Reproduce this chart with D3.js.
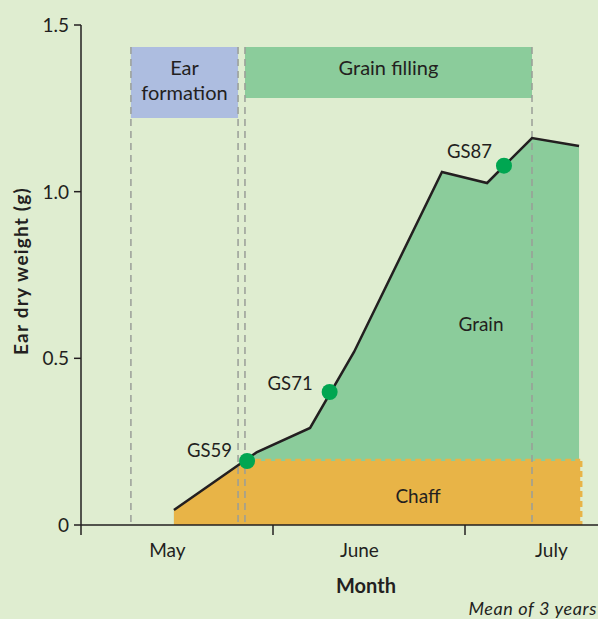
<!DOCTYPE html>
<html>
<head>
<meta charset="utf-8">
<script src="https://cdn.jsdelivr.net/npm/d3@7"></script>
<style>
  body { margin: 0; background: #dfedd0; }
  text { font-family: Lato, "Open Sans", sans-serif; fill: #231f20; }
</style>
</head>
<body>
<div id="chart"></div>
<script>
// months measured from 1 May (0 = start of May, 1 = start of June ...)
const monthLabels = ["May", "June", "July"];
const monthTicks = [0, 1, 2];
const yTicks = [0, 0.5, 1.0, 1.5];

// total ear dry weight (g)
const earMonths = [0.484, 0.917, 1.193, 1.422, 1.880, 2.115, 2.349, 2.594];
const earWeight = [0.045, 0.219, 0.291, 0.519, 1.059, 1.026, 1.161, 1.137];

// chaff part of the weight
const chaffMonths = [0.484, 0.855, 2.6];
const chaffWeight = [0.045, 0.192, 0.192];

// growth stages
const stageNames = ["GS59", "GS71", "GS87"];
const stageMonths = [0.865, 1.295, 2.203];
const stageWeight = [0.192, 0.399, 1.078];

// phases shown as bands on top
const phaseNames = [["Ear", "formation"], ["Grain filling"]];
const phaseStart = [0.26, 0.854];
const phaseEnd = [0.818, 2.349];

const width = 598, height = 619;
const margin = { top: 25, right: 0, bottom: 94, left: 81 };

const svg = d3.select("#chart").append("svg")
  .attr("width", width)
  .attr("height", height);

svg.append("rect").attr("width", width).attr("height", height).attr("fill", "#dfedd0");

const x = d3.scaleLinear()
  .domain([0, (width - margin.left) / 192])
  .range([margin.left, width]);
const y = d3.scaleLinear()
  .domain([0, 1.5])
  .range([height - margin.bottom, margin.top]);

const ear = earMonths.map((m, i) => ({ m: m, v: earWeight[i] }));
const chaff = chaffMonths.map((m, i) => ({ m: m, v: chaffWeight[i] }));

// grain area (whole area under the ear curve, chaff drawn over it)
svg.append("path")
  .datum(ear)
  .attr("fill", "#8bcc9b")
  .attr("d", d3.area().x(d => x(d.m)).y0(y(0)).y1(d => y(d.v)));

svg.append("path")
  .datum(chaff)
  .attr("fill", "#e8b447")
  .attr("d", d3.area().x(d => x(d.m)).y0(y(0)).y1(d => y(d.v)));

// scalloped look of the chaff edge
svg.append("path")
  .datum(chaff.slice(1))
  .attr("fill", "none")
  .attr("stroke", "#e8b447")
  .attr("stroke-width", 2.5)
  .attr("stroke-dasharray", "6,4")
  .attr("transform", "translate(0,-1)")
  .attr("d", d3.line().x(d => x(d.m)).y(d => y(d.v)));
svg.append("line")
  .attr("x1", x(chaffMonths[2]) + 1).attr("x2", x(chaffMonths[2]) + 1)
  .attr("y1", y(chaffWeight[2])).attr("y2", y(0))
  .attr("stroke", "#e8b447").attr("stroke-width", 2.5)
  .attr("stroke-dasharray", "6,4");

// phase bands
const phaseColors = ["#adbde0", "#8bcc9b"];
const phaseBottom = [118, 98];
phaseNames.forEach((names, i) => {
  svg.append("rect")
    .attr("x", x(phaseStart[i]))
    .attr("y", 47)
    .attr("width", x(phaseEnd[i]) - x(phaseStart[i]))
    .attr("height", phaseBottom[i] - 47)
    .attr("fill", phaseColors[i]);
  const cx = (x(phaseStart[i]) + x(phaseEnd[i])) / 2;
  names.forEach((t, j) => {
    svg.append("text")
      .attr("x", cx)
      .attr("y", 75 + j * 25)
      .attr("text-anchor", "middle")
      .style("font-size", "20px")
      .text(t);
  });
});

// dashed guides
const guides = [phaseStart[0], phaseEnd[0], phaseStart[1], phaseEnd[1]];
svg.selectAll("line.guide")
  .data(guides)
  .join("line")
  .attr("class", "guide")
  .attr("x1", d => x(d)).attr("x2", d => x(d))
  .attr("y1", 47).attr("y2", y(0))
  .attr("stroke", "#9a9e98")
  .attr("stroke-width", 1.5)
  .attr("stroke-dasharray", "7,5");

// ear weight line
svg.append("path")
  .datum(ear)
  .attr("fill", "none")
  .attr("stroke", "#231f20")
  .attr("stroke-width", 2.5)
  .attr("d", d3.line().x(d => x(d.m)).y(d => y(d.v)));

// axes
svg.append("line")
  .attr("x1", x(0)).attr("x2", width)
  .attr("y1", y(0)).attr("y2", y(0))
  .attr("stroke", "#231f20").attr("stroke-width", 1.5);
svg.append("line")
  .attr("x1", x(0)).attr("x2", x(0))
  .attr("y1", y(1.5)).attr("y2", y(0) + 10)
  .attr("stroke", "#231f20").attr("stroke-width", 1.5);

svg.selectAll("line.ytick")
  .data(yTicks)
  .join("line")
  .attr("class", "ytick")
  .attr("x1", x(0) - 7).attr("x2", x(0))
  .attr("y1", d => y(d)).attr("y2", d => y(d))
  .attr("stroke", "#231f20").attr("stroke-width", 1.5);
svg.selectAll("text.ytick")
  .data(yTicks)
  .join("text")
  .attr("class", "ytick")
  .attr("x", x(0) - 12)
  .attr("y", d => y(d) + 7)
  .attr("text-anchor", "end")
  .style("font-size", "19px")
  .text(d => d === 0 ? "0" : d.toFixed(1));

svg.selectAll("line.xtick")
  .data(monthTicks.slice(1))
  .join("line")
  .attr("class", "xtick")
  .attr("x1", d => x(d)).attr("x2", d => x(d))
  .attr("y1", y(0)).attr("y2", y(0) + 10)
  .attr("stroke", "#231f20").attr("stroke-width", 1.5);
svg.selectAll("text.xlab")
  .data(monthLabels)
  .join("text")
  .attr("class", "xlab")
  .attr("x", (d, i) => x(monthTicks[i] + 0.45))
  .attr("y", 557)
  .attr("text-anchor", "middle")
  .style("font-size", "19px")
  .text(d => d);

svg.append("text")
  .attr("x", 366).attr("y", 593)
  .attr("text-anchor", "middle")
  .style("font-size", "20px").style("font-weight", "bold")
  .text("Month");

svg.append("text")
  .attr("transform", "translate(28,271) rotate(-90)")
  .attr("text-anchor", "middle")
  .style("font-size", "19px").style("font-weight", "bold")
  .style("letter-spacing", "1.2px")
  .text("Ear dry weight (g)");

svg.append("text")
  .attr("x", 597).attr("y", 615)
  .attr("text-anchor", "end")
  .style("font-size", "18px").style("font-style", "italic")
  .style("letter-spacing", "0.6px")
  .text("Mean of 3 years");

// area labels
svg.append("text").attr("x", 481).attr("y", 331).attr("text-anchor", "middle")
  .style("font-size", "19px").text("Grain");
svg.append("text").attr("x", 418).attr("y", 503).attr("text-anchor", "middle")
  .style("font-size", "19px").text("Chaff");

// growth stage points
const labelDx = [-15, -17, -12];
const labelDy = [-4, -2, -8];
svg.selectAll("circle.stage")
  .data(stageNames)
  .join("circle")
  .attr("class", "stage")
  .attr("cx", (d, i) => x(stageMonths[i]))
  .attr("cy", (d, i) => y(stageWeight[i]))
  .attr("r", 8)
  .attr("fill", "#00a651");
svg.selectAll("text.stage")
  .data(stageNames)
  .join("text")
  .attr("class", "stage")
  .attr("x", (d, i) => x(stageMonths[i]) + labelDx[i])
  .attr("y", (d, i) => y(stageWeight[i]) + labelDy[i])
  .attr("text-anchor", "end")
  .style("font-size", "18.5px")
  .text(d => d);
</script>
</body>
</html>
